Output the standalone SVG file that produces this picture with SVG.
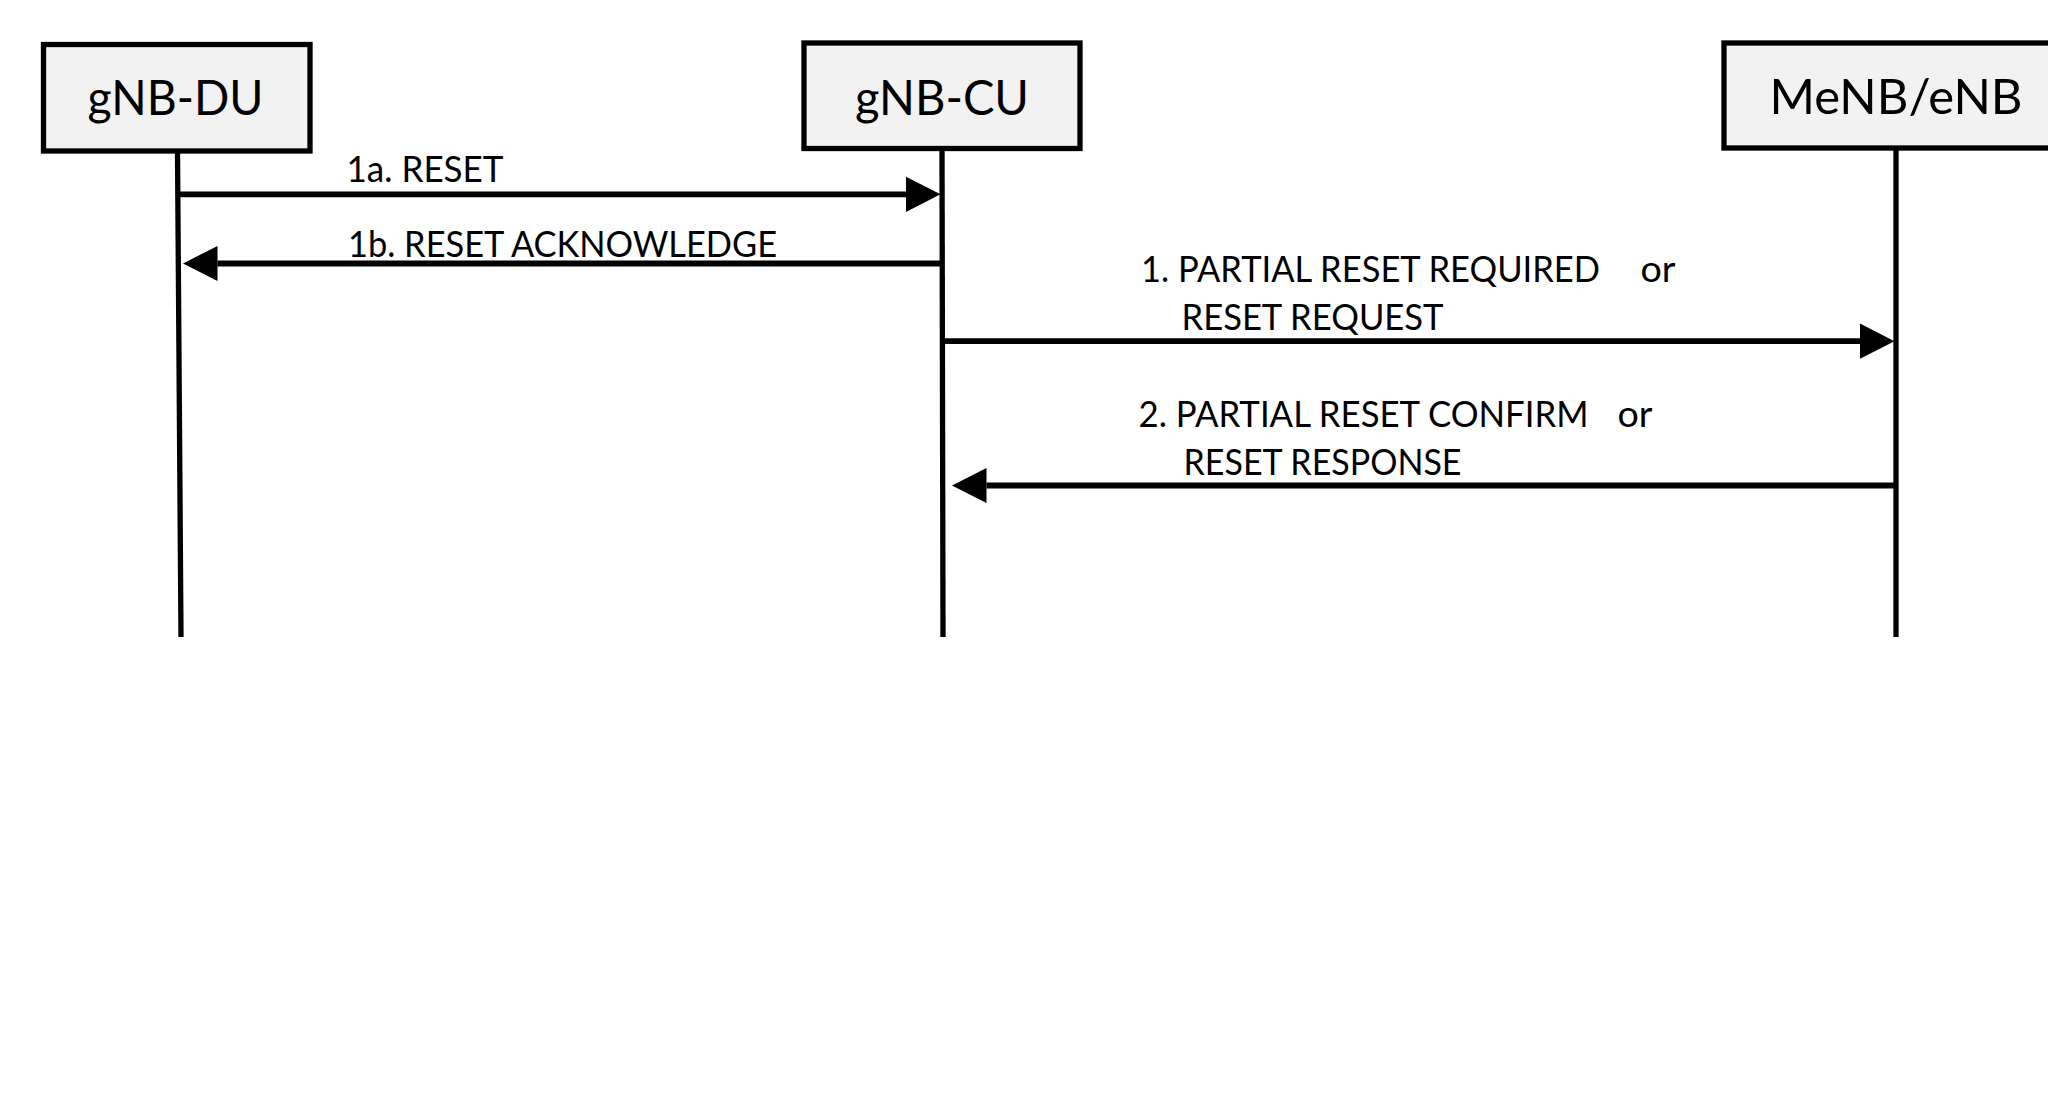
<svg xmlns="http://www.w3.org/2000/svg" width="2048" height="1111" viewBox="0 0 2048 1111">
<style>
.box{fill:#f2f2f2;stroke:#000;stroke-width:5.3}
.life{stroke:#000;stroke-width:5.3;fill:none}
.msg{stroke:#000;stroke-width:5.8;fill:none;marker-end:url(#head)}
.title{font-family:Lato,Carlito,"Liberation Sans",sans-serif;font-size:48px;fill:#000}
.lbl{font-family:Lato,Carlito,"Liberation Sans",sans-serif;font-size:36.5px;fill:#000}
</style>
<defs>
<marker id="head" markerUnits="userSpaceOnUse" markerWidth="35" markerHeight="36" refX="0" refY="17.6" orient="auto" overflow="visible">
<path d="M0,0 L34.5,17.6 L0,35.2 Z" fill="#000"/>
</marker>
</defs>
<rect width="2048" height="1111" fill="#fff"/>
<g id="gnb-du">
<rect class="box" x="43.5" y="44.5" width="266.5" height="106.5"/>
<text class="title" x="87.5" y="115" textLength="176" lengthAdjust="spacingAndGlyphs">gNB-DU</text>
<line class="life" x1="177.5" y1="151" x2="181" y2="637"/>
</g>
<g id="gnb-cu">
<rect class="box" x="804" y="43" width="276" height="105.5"/>
<text class="title" x="855" y="114.5" textLength="174" lengthAdjust="spacingAndGlyphs">gNB-CU</text>
<line class="life" x1="942" y1="148" x2="943" y2="637"/>
</g>
<g id="menb-enb">
<rect class="box" x="1724" y="43" width="400" height="105"/>
<text class="title" x="1769.5" y="114" textLength="253" lengthAdjust="spacingAndGlyphs">MeNB/eNB</text>
<line class="life" x1="1896" y1="148" x2="1896" y2="637"/>
</g>
<g id="connectors">
<path class="msg" d="M180,194.3 H906"/>
<path class="msg" d="M942,263.5 H217.5"/>
<path class="msg" d="M943,341.2 H1860"/>
<path class="msg" d="M1896,485.5 H986.5"/>
</g>
<g id="labels">
<text class="lbl" x="346.5" y="181.7" textLength="157" lengthAdjust="spacingAndGlyphs">1a. RESET</text>
<text class="lbl" x="348" y="256.7" textLength="429" lengthAdjust="spacingAndGlyphs">1b. RESET ACKNOWLEDGE</text>
<text class="lbl" x="1141" y="281.7" textLength="459" lengthAdjust="spacingAndGlyphs">1. PARTIAL RESET REQUIRED</text>
<text class="lbl" x="1640.5" y="281.7" textLength="35" lengthAdjust="spacingAndGlyphs">or</text>
<text class="lbl" x="1181.5" y="330" textLength="262" lengthAdjust="spacingAndGlyphs">RESET REQUEST</text>
<text class="lbl" x="1138.5" y="426.7" textLength="450" lengthAdjust="spacingAndGlyphs">2. PARTIAL RESET CONFIRM</text>
<text class="lbl" x="1617.5" y="426.7" textLength="35" lengthAdjust="spacingAndGlyphs">or</text>
<text class="lbl" x="1183.5" y="475" textLength="278" lengthAdjust="spacingAndGlyphs">RESET RESPONSE</text>
</g>
</svg>
